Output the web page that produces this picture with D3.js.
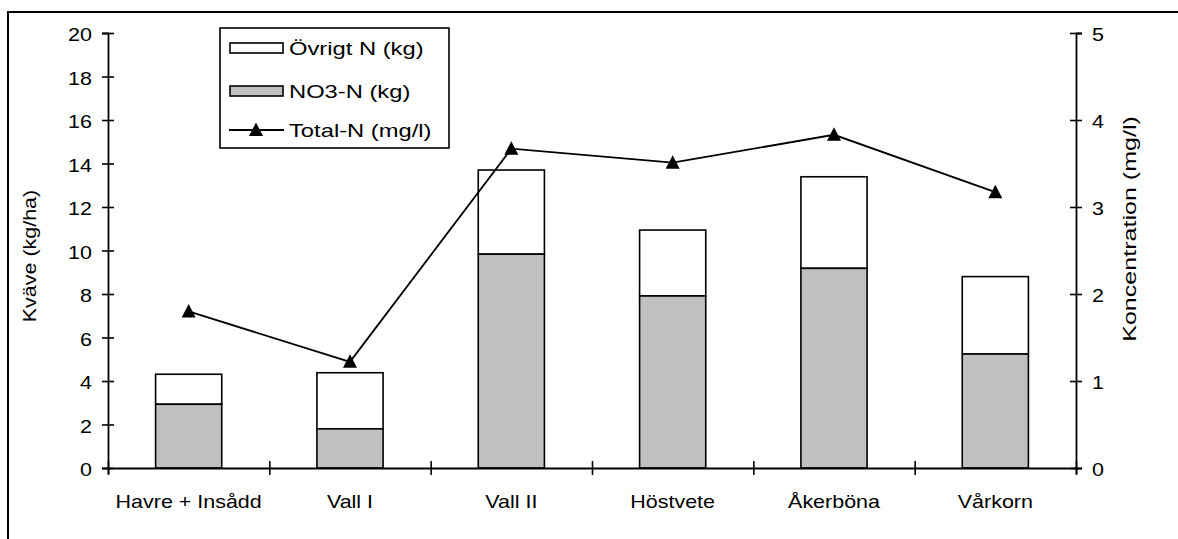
<!DOCTYPE html>
<html>
<head>
<meta charset="utf-8">
<script src="https://cdn.jsdelivr.net/npm/d3@7"></script>
<style>
  html, body { margin: 0; padding: 0; background: #fff; }
  svg { display: block; font-family: "Liberation Sans", Arial, sans-serif; }
</style>
</head>
<body>
<svg id="chart" width="1178" height="539"></svg>
<script>
// Crops and measured nitrogen leaching
const categories = ["Havre + Insådd", "Vall I", "Vall II", "Höstvete", "Åkerböna", "Vårkorn"];
const no3N   = [2.93, 1.80, 9.83, 7.91, 9.18, 5.24];   // NO3-N (kg/ha)
const totalKg = [4.31, 4.38, 13.70, 10.94, 13.39, 8.80]; // NO3-N + övrigt N (kg/ha)
const totalNConc = [1.80, 1.22, 3.67, 3.51, 3.83, 3.17]; // Total-N (mg/l)
const leftTicks = [0, 2, 4, 6, 8, 10, 12, 14, 16, 18, 20];
const rightTicks = [0, 1, 2, 3, 4, 5];
const legendLabels = ["Övrigt N (kg)", "NO3-N (kg)", "Total-N (mg/l)"];

const svg = d3.select("#chart");
const plotLeft = 108, plotRight = 1076, plotTop = 33, plotBottom = 468;
const grey = "#c0c0c0";
const FS = 19, SX = 1.13;

// outer frame
svg.append("rect")
  .attr("x", 8).attr("y", 12).attr("width", 1200).attr("height", 600)
  .attr("fill", "none").attr("stroke", "#000").attr("stroke-width", 2);

const x = d3.scaleBand().domain(categories).range([plotLeft, plotRight])
  .paddingInner(0.59).paddingOuter(0.295);
const xEdge = d3.scaleLinear().domain([0, categories.length]).range([plotLeft, plotRight]);
const yL = d3.scaleLinear().domain([0, 20]).range([plotBottom, plotTop]);
const yR = d3.scaleLinear().domain([0, 5]).range([plotBottom, plotTop]);

// stacked bars: grey NO3-N at the bottom, white remainder on top
const bars = svg.append("g");
categories.forEach((c, i) => {
  bars.append("rect")
    .attr("x", x(c)).attr("width", x.bandwidth())
    .attr("y", yL(totalKg[i])).attr("height", yL(no3N[i]) - yL(totalKg[i]))
    .attr("fill", "#fff").attr("stroke", "#000").attr("stroke-width", 1.6);
  bars.append("rect")
    .attr("x", x(c)).attr("width", x.bandwidth())
    .attr("y", yL(no3N[i])).attr("height", yL(0) - yL(no3N[i]))
    .attr("fill", grey).attr("stroke", "#000").attr("stroke-width", 1.6);
});

function styleAxis(g) {
  g.select(".domain").attr("stroke", "#000").attr("stroke-width", 1.8);
  g.selectAll(".tick line").attr("stroke", "#000").attr("stroke-width", 1.6);
  g.selectAll(".tick text").attr("fill", "#000").attr("font-size", FS)
    .attr("font-family", "Liberation Sans, Arial, sans-serif");
}

// left axis
const gL = svg.append("g").attr("transform", `translate(${plotLeft},0)`)
  .call(d3.axisLeft(yL).tickValues(leftTicks).tickFormat(d3.format("d"))
    .tickSizeOuter(0).tickSize(6));
styleAxis(gL);
gL.selectAll(".tick line").attr("x1", -6).attr("x2", 6);
gL.selectAll(".tick text").attr("x", null).attr("dy", null)
  .attr("dominant-baseline", "central")
  .attr("transform", `translate(-16,1) scale(${SX},1)`);

// right axis
const gR = svg.append("g").attr("transform", `translate(${plotRight},0)`)
  .call(d3.axisRight(yR).tickValues(rightTicks).tickFormat(d3.format("d"))
    .tickSizeOuter(0).tickSize(6));
styleAxis(gR);
gR.selectAll(".tick line").attr("x1", -6).attr("x2", 6);
gR.selectAll(".tick text").attr("x", null).attr("dy", null)
  .attr("dominant-baseline", "central")
  .attr("transform", `translate(16,1) scale(${SX},1)`);

// bottom axis: boundary ticks between crops
const gB = svg.append("g").attr("transform", `translate(0,${plotBottom})`)
  .call(d3.axisBottom(xEdge).tickValues(d3.range(categories.length + 1))
    .tickFormat("").tickSizeOuter(0).tickSize(6));
styleAxis(gB);
gB.selectAll(".tick line").attr("y1", -7).attr("y2", 7);

// category labels
const gC = svg.append("g").attr("transform", `translate(0,${plotBottom})`)
  .call(d3.axisBottom(x).tickSize(0));
gC.select(".domain").remove();
styleAxis(gC);
gC.selectAll(".tick text").attr("y", null).attr("dy", null)
  .attr("transform", `translate(0,40) scale(${SX},1)`);

// axis titles
svg.append("text")
  .attr("transform", `translate(36,256) rotate(-90) scale(${SX},1)`)
  .attr("text-anchor", "middle").attr("font-size", FS).text("Kväve (kg/ha)");
svg.append("text")
  .attr("transform", `translate(1136,229) rotate(-90) scale(1.32,1)`)
  .attr("text-anchor", "middle").attr("font-size", FS).text("Koncentration (mg/l)");

// Total-N concentration line with triangle markers
const cx = c => x(c) + x.bandwidth() / 2;
const line = d3.line().x((d, i) => cx(categories[i])).y(d => yR(d));
svg.append("path").datum(totalNConc)
  .attr("d", line).attr("fill", "none").attr("stroke", "#000").attr("stroke-width", 1.8);
const tri = "M0,-7.5L7,6L-7,6Z";
svg.append("g").selectAll("path.m").data(totalNConc).join("path")
  .attr("d", tri)
  .attr("transform", (d, i) => `translate(${cx(categories[i])},${yR(d)})`)
  .attr("fill", "#000");

// legend
const lg = svg.append("g");
lg.append("rect").attr("x", 220).attr("y", 28).attr("width", 229).attr("height", 120)
  .attr("fill", "#fff").attr("stroke", "#000").attr("stroke-width", 1.6);
const rowY = [48, 91, 130];
lg.append("rect").attr("x", 230).attr("y", rowY[0] - 5).attr("width", 53).attr("height", 10)
  .attr("fill", "#fff").attr("stroke", "#000").attr("stroke-width", 1.6);
lg.append("rect").attr("x", 230).attr("y", rowY[1] - 5).attr("width", 53).attr("height", 10)
  .attr("fill", grey).attr("stroke", "#000").attr("stroke-width", 1.6);
lg.append("line").attr("x1", 229).attr("x2", 284).attr("y1", rowY[2]).attr("y2", rowY[2])
  .attr("stroke", "#000").attr("stroke-width", 1.8);
lg.append("path").attr("d", tri).attr("transform", `translate(256,${rowY[2]})`).attr("fill", "#000");
legendLabels.forEach((t, i) => {
  lg.append("text")
    .attr("transform", `translate(289,${rowY[i] + 7}) scale(1.25,1)`)
    .attr("font-size", FS).text(t);
});
</script>
</body>
</html>
